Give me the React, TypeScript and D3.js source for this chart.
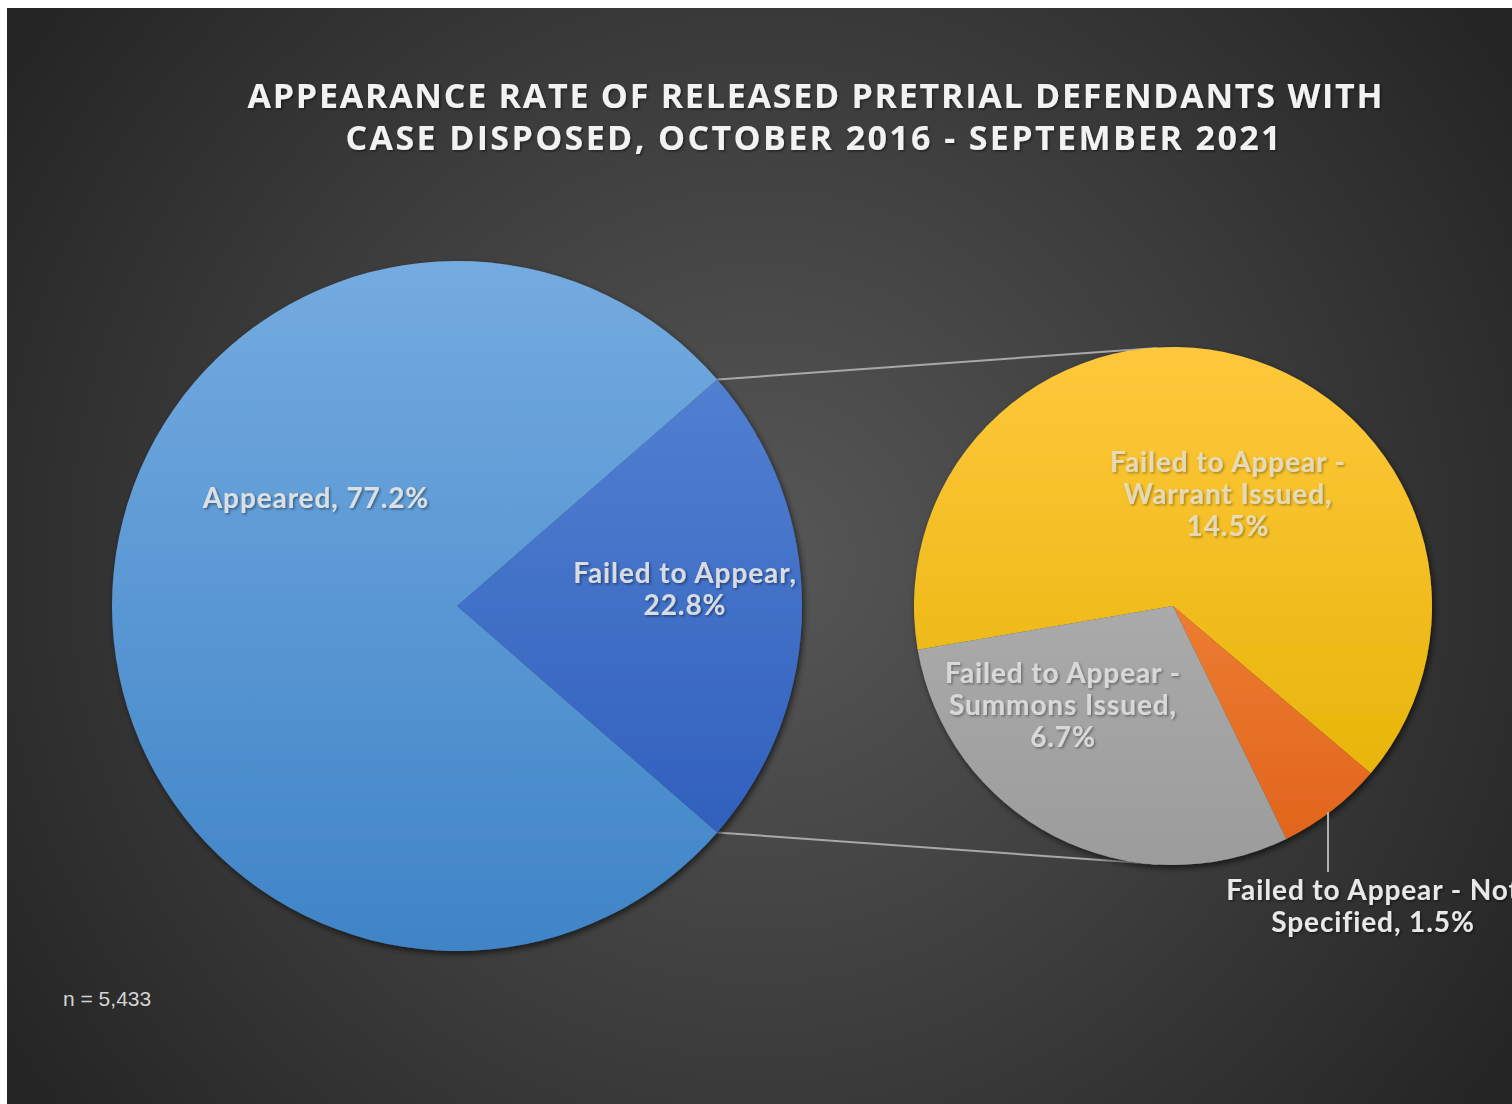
import React from "react";
import * as d3 from "d3";

const titleLines = [
  "APPEARANCE RATE OF RELEASED PRETRIAL DEFENDANTS WITH",
  "CASE DISPOSED, OCTOBER 2016 - SEPTEMBER 2021",
];

const mainCategories = ["Failed to Appear", "Appeared"];
const mainValues = [22.8, 77.2];

const subCategories = [
  "Failed to Appear - Warrant Issued",
  "Failed to Appear - Not Specified",
  "Failed to Appear - Summons Issued",
];
const subValues = [14.5, 1.5, 6.7];

const sampleNote = "n = 5,433";

const W = 1512;
const H = 1104;
const FONT = "Lato, 'Open Sans', sans-serif";

export default function App() {
  const c1 = { x: 457, y: 606, r: 345 };
  const c2 = { x: 1173, y: 606, r: 259 };

  const ftaShare = mainValues[0] / d3.sum(mainValues);
  const mainStart = Math.PI / 2 - ftaShare * Math.PI;
  const mainPie = d3
    .pie<number>()
    .sort(null)
    .startAngle(mainStart)
    .endAngle(mainStart + 2 * Math.PI)(mainValues);
  const mainArc = d3.arc<d3.PieArcDatum<number>>().innerRadius(0).outerRadius(c1.r);

  const subStart = (260.3 * Math.PI) / 180;
  const subPie = d3
    .pie<number>()
    .sort(null)
    .startAngle(subStart)
    .endAngle(subStart + 2 * Math.PI)(subValues);
  const subArc = d3.arc<d3.PieArcDatum<number>>().innerRadius(0).outerRadius(c2.r);

  const mainFills = ["url(#gFta)", "url(#gApp)"];
  const subFills = ["url(#gWar)", "url(#gNs)", "url(#gSum)"];

  const fta = mainPie[0];
  const p1 = [c1.x + c1.r * Math.sin(fta.startAngle), c1.y - c1.r * Math.cos(fta.startAngle)];
  const p2 = [c1.x + c1.r * Math.sin(fta.endAngle), c1.y - c1.r * Math.cos(fta.endAngle)];

  const fmt = (v: number) => d3.format(".1f")(v) + "%";

  const labelStyle = {
    fontFamily: FONT,
    fontWeight: 700,
    fontSize: 28,
    letterSpacing: 0.9,
    fill: "#e8e8e8",
  } as const;

  return (
    <svg
      width={W}
      height={H}
      style={{ display: "block", position: "absolute", left: 0, top: 0 }}
    >
      <defs>
        <radialGradient id="bg" cx="760" cy="560" r="900" gradientUnits="userSpaceOnUse">
          <stop offset="0" stopColor="#575757" />
          <stop offset="0.55" stopColor="#3c3c3c" />
          <stop offset="1" stopColor="#252525" />
        </radialGradient>
        <linearGradient id="gApp" x1="0" y1={-c1.r} x2="0" y2={c1.r} gradientUnits="userSpaceOnUse">
          <stop offset="0" stopColor="#74abe0" />
          <stop offset="1" stopColor="#3f84c7" />
        </linearGradient>
        <linearGradient id="gFta" x1="0" y1={-c1.r} x2="0" y2={c1.r} gradientUnits="userSpaceOnUse">
          <stop offset="0" stopColor="#5a88d6" />
          <stop offset="1" stopColor="#2858b8" />
        </linearGradient>
        <linearGradient id="gWar" x1="0" y1={-c2.r} x2="0" y2={c2.r} gradientUnits="userSpaceOnUse">
          <stop offset="0" stopColor="#ffc83c" />
          <stop offset="1" stopColor="#e2b100" />
        </linearGradient>
        <linearGradient id="gNs" x1="0" y1={-c2.r} x2="0" y2={c2.r} gradientUnits="userSpaceOnUse">
          <stop offset="0" stopColor="#f8964a" />
          <stop offset="1" stopColor="#e0621a" />
        </linearGradient>
        <linearGradient id="gSum" x1="0" y1={-c2.r} x2="0" y2={c2.r} gradientUnits="userSpaceOnUse">
          <stop offset="0" stopColor="#b8b8b8" />
          <stop offset="1" stopColor="#9c9c9c" />
        </linearGradient>
        <filter id="pieShadow" x="-10%" y="-10%" width="130%" height="130%">
          <feDropShadow dx="2" dy="3" stdDeviation="3" floodColor="#000" floodOpacity="0.6" />
        </filter>
        <filter id="txtShadow" x="-5%" y="-20%" width="110%" height="150%">
          <feDropShadow dx="1.5" dy="1.5" stdDeviation="1.2" floodColor="#000" floodOpacity="0.45" />
        </filter>
      </defs>
      <rect x={0} y={0} width={W} height={H} fill="#ffffff" />
      <rect x={7} y={8} width={W} height={H} fill="url(#bg)" />

      <g filter="url(#txtShadow)">
        <text
          x={815}
          y={108}
          textAnchor="middle"
          fontFamily="'Open Sans', Lato, sans-serif"
          fontWeight={700}
          fontSize={34}
          fill="#f2f2f2"
          textLength={1135}
          lengthAdjust="spacing"
        >
          {titleLines[0]}
        </text>
        <text
          x={813}
          y={150}
          textAnchor="middle"
          fontFamily="'Open Sans', Lato, sans-serif"
          fontWeight={700}
          fontSize={34}
          fill="#f2f2f2"
          textLength={935}
          lengthAdjust="spacing"
        >
          {titleLines[1]}
        </text>
      </g>

      <line x1={p1[0]} y1={p1[1]} x2={c2.x - 16} y2={c2.y - c2.r + 1} stroke="#a8a8a8" strokeWidth={2} />
      <line x1={p2[0]} y1={p2[1]} x2={c2.x - 16} y2={c2.y + c2.r - 1} stroke="#a8a8a8" strokeWidth={2} />

      <g transform={`translate(${c1.x},${c1.y})`} filter="url(#pieShadow)">
        {mainPie.map((d, i) => (
          <path key={mainCategories[i]} d={mainArc(d) || ""} fill={mainFills[i]} />
        ))}
      </g>

      <g transform={`translate(${c2.x},${c2.y})`} filter="url(#pieShadow)">
        {subPie.map((d, i) => (
          <path key={subCategories[i]} d={subArc(d) || ""} fill={subFills[i]} />
        ))}
      </g>

      <line x1={1328} y1={812} x2={1328} y2={872} stroke="#b0b0b0" strokeWidth={2} />

      <g filter="url(#txtShadow)" style={labelStyle}>
        <text x={c1.x - 141} y={c1.y - 98} textAnchor="middle" opacity={0.9}>
          {mainCategories[1]}, {fmt(mainValues[1])}
        </text>
        <text x={c1.x + 228} y={c1.y - 23} textAnchor="middle" opacity={0.9}>
          <tspan x={c1.x + 228}>{mainCategories[0]},</tspan>
          <tspan x={c1.x + 228} dy={32}>{fmt(mainValues[0])}</tspan>
        </text>
        <text x={c2.x + 55} y={c2.y - 134} textAnchor="middle" opacity={0.72}>
          <tspan x={c2.x + 55}>Failed to Appear -</tspan>
          <tspan x={c2.x + 55} dy={32}>Warrant Issued,</tspan>
          <tspan x={c2.x + 55} dy={32}>{fmt(subValues[0])}</tspan>
        </text>
        <text x={c2.x - 110} y={c2.y + 77} textAnchor="middle" opacity={0.8}>
          <tspan x={c2.x - 110}>Failed to Appear -</tspan>
          <tspan x={c2.x - 110} dy={32}>Summons Issued,</tspan>
          <tspan x={c2.x - 110} dy={32}>{fmt(subValues[2])}</tspan>
        </text>
        <text x={1373} y={900} textAnchor="middle">
          <tspan x={1373}>Failed to Appear - Not</tspan>
          <tspan x={1373} dy={32}>Specified, {fmt(subValues[1])}</tspan>
        </text>
      </g>

      <text
        x={63}
        y={1006}
        fontFamily="'Liberation Sans', Arial, sans-serif"
        fontSize={21}
        fill="#d4d4d4"
      >
        {sampleNote}
      </text>
    </svg>
  );
}
